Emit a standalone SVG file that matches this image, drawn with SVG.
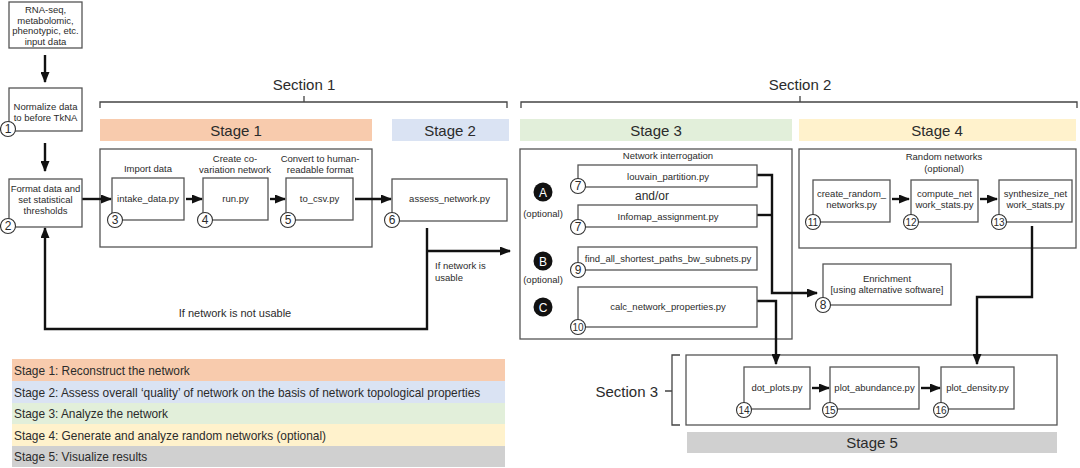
<svg xmlns="http://www.w3.org/2000/svg" width="1080" height="468" viewBox="0 0 1080 468">
<defs>
<style>
text{font-family:"Liberation Sans",Arial,sans-serif;fill:#2b2b2b}
.box{fill:#fff;stroke:#555;stroke-width:1.3}
.frame{fill:none;stroke:#555;stroke-width:1.3}
.t{font-size:9.5px;text-anchor:middle}
.s{font-size:11px;text-anchor:middle}
.hd{font-size:15px;text-anchor:middle}
.lg{font-size:11.9px}
.num{fill:#fff;stroke:#333;stroke-width:1.1}
.nt{font-size:12px;text-anchor:middle}
.nt2{font-size:10px;text-anchor:middle}
.bl{fill:#111}
.blt{fill:#fff;font-size:12px;text-anchor:middle}
.c{fill:none;stroke:#111;stroke-width:2.4}
.br{fill:none;stroke:#444;stroke-width:1.3}
</style>
<marker id="ah" markerUnits="userSpaceOnUse" markerWidth="11" markerHeight="9" refX="10" refY="4.5" orient="auto">
<path d="M0,0 L11,4.5 L0,9 z" fill="#111"/>
</marker>
</defs>
<rect width="1080" height="468" fill="#fff"/>

<!-- Section brackets -->
<g id="sections">
<path class="br" d="M100,108 V102 H507 V108 M304,102 V96"/>
<text class="hd" x="304" y="90">Section 1</text>
<path class="br" d="M521,108 V102 H1077 V108 M800,102 V96"/>
<text class="hd" x="800" y="90">Section 2</text>
<path class="br" d="M680,355 H672 V425 H680 M672,391 H665"/>
<text class="hd" x="658" y="397" style="text-anchor:end">Section 3</text>
</g>

<!-- Stage headers -->
<g id="stage-headers">
<rect x="100" y="119" width="272" height="22" fill="#f8cbad"/>
<text class="hd" x="236" y="135.5">Stage 1</text>
<rect x="392" y="119" width="117" height="22" fill="#dae3f3"/>
<text class="hd" x="450" y="135.5">Stage 2</text>
<rect x="520" y="119" width="272" height="22" fill="#e2efda"/>
<text class="hd" x="656" y="135.5">Stage 3</text>
<rect x="799" y="119" width="277" height="22" fill="#fff2cc"/>
<text class="hd" x="937" y="135.5">Stage 4</text>
<rect x="687" y="432" width="370" height="21" fill="#d0d0d0"/>
<text class="hd" x="872" y="447.5">Stage 5</text>
</g>

<!-- Frames -->
<g id="frames">
<rect class="frame" x="100" y="149" width="272" height="98"/>
<rect class="frame" x="520" y="149" width="272" height="190"/>
<rect class="frame" x="799" y="149" width="277" height="99"/>
<rect class="frame" x="686" y="355" width="371" height="70"/>
<text class="t" x="668" y="159">Network interrogation</text>
<text class="t" x="944" y="160">Random networks</text>
<text class="t" x="944" y="172">(optional)</text>
<text class="t" x="148" y="172">Import data</text>
<text class="t" x="235" y="162">Create co-</text>
<text class="t" x="235" y="173">variation network</text>
<text class="t" x="320" y="162">Convert to human-</text>
<text class="t" x="320" y="173">readable format</text>
<text x="652" y="200" style="font-size:12px;text-anchor:middle">and/or</text>
</g>

<!-- Connectors -->
<g id="connectors">
<path class="c" d="M45,55 V82" marker-end="url(#ah)"/>
<path class="c" d="M45,143 V171" marker-end="url(#ah)"/>
<path class="c" d="M82,199 H111" marker-end="url(#ah)"/>
<path class="c" d="M186,199 H202" marker-end="url(#ah)"/>
<path class="c" d="M270,199 H285" marker-end="url(#ah)"/>
<path class="c" d="M355,199 H391" marker-end="url(#ah)"/>
<path class="c" d="M427,228 V329 H45 V228" marker-end="url(#ah)"/>
<path class="c" d="M427,251 H510" marker-end="url(#ah)"/>
<path class="c" d="M757,175 H772 V293 H817" marker-end="url(#ah)"/>
<path class="c" d="M757,215 H772"/>
<path class="c" d="M757,301 H776 V364" marker-end="url(#ah)"/>
<path class="c" d="M892,199 H909" marker-end="url(#ah)"/>
<path class="c" d="M980,199 H997" marker-end="url(#ah)"/>
<path class="c" d="M1032,226 V297 H977 V364" marker-end="url(#ah)"/>
<path class="c" d="M812,388 H829" marker-end="url(#ah)"/>
<path class="c" d="M921,388 H940" marker-end="url(#ah)"/>
<text x="435" y="269" style="font-size:9.5px">If network is</text>
<text x="435" y="281" style="font-size:9.5px">usable</text>
<text class="s" x="235" y="317">If network is not usable</text>
</g>

<!-- Left column -->
<g id="n-input">
<rect class="box" x="9" y="2" width="73" height="46"/>
<text class="t" x="45.5" y="13">RNA-seq,</text>
<text class="t" x="45.5" y="23.5">metabolomic,</text>
<text class="t" x="45.5" y="34">phenotypic, etc.</text>
<text class="t" x="45.5" y="44.5">input data</text>
</g>
<g id="n1">
<rect class="box" x="9" y="88" width="73" height="43"/>
<text class="t" x="45.5" y="110">Normalize data</text>
<text class="t" x="45.5" y="121">to before TkNA</text>
<circle class="num" cx="8" cy="129" r="7.5"/><text class="nt" x="8" y="133.3">1</text>
</g>
<g id="n2">
<rect class="box" x="9" y="179" width="73" height="48"/>
<text class="t" x="45.5" y="192">Format data and</text>
<text class="t" x="45.5" y="203">set statistical</text>
<text class="t" x="45.5" y="214">thresholds</text>
<circle class="num" cx="8" cy="226" r="7.5"/><text class="nt" x="8" y="230.3">2</text>
</g>

<!-- Stage 1 nodes -->
<g id="n3">
<rect class="box" x="112" y="178" width="72" height="42"/>
<text class="t" x="148" y="202">intake_data.py</text>
<circle class="num" cx="115" cy="220" r="7.5"/><text class="nt" x="115" y="224.3">3</text>
</g>
<g id="n4">
<rect class="box" x="203" y="178" width="65" height="42"/>
<text class="t" x="235.5" y="202">run.py</text>
<circle class="num" cx="205" cy="220" r="7.5"/><text class="nt" x="205" y="224.3">4</text>
</g>
<g id="n5">
<rect class="box" x="286" y="178" width="67" height="42"/>
<text class="t" x="319.5" y="202">to_csv.py</text>
<circle class="num" cx="288" cy="220" r="7.5"/><text class="nt" x="288" y="224.3">5</text>
</g>
<g id="n6">
<rect class="box" x="392" y="179" width="115" height="42"/>
<text class="t" x="449.5" y="202">assess_network.py</text>
<circle class="num" cx="392" cy="220" r="7.5"/><text class="nt" x="392" y="224.3">6</text>
</g>

<!-- Stage 3 -->
<g id="grpA">
<circle class="bl" cx="543" cy="192" r="9.5"/><text class="blt" x="543" y="196.5">A</text>
<text class="t" x="543" y="217">(optional)</text>
</g>
<g id="grpB">
<circle class="bl" cx="543" cy="261" r="9.5"/><text class="blt" x="543" y="265.5">B</text>
<text class="t" x="543" y="283">(optional)</text>
</g>
<g id="grpC">
<circle class="bl" cx="543" cy="307" r="9.5"/><text class="blt" x="543" y="311.5">C</text>
</g>
<g id="n7a">
<rect class="box" x="578" y="165" width="179" height="22"/>
<text class="t" x="668" y="179.5">louvain_partition.py</text>
<circle class="num" cx="578" cy="186" r="7.5"/><text class="nt" x="578" y="190.3">7</text>
</g>
<g id="n7b">
<rect class="box" x="578" y="205" width="179" height="22"/>
<text class="t" x="668" y="219.5">Infomap_assignment.py</text>
<circle class="num" cx="578" cy="227" r="7.5"/><text class="nt" x="578" y="231.3">7</text>
</g>
<g id="n9">
<rect class="box" x="578" y="247" width="179" height="23"/>
<text class="t" x="668" y="262">find_all_shortest_paths_bw_subnets.py</text>
<circle class="num" cx="578" cy="270" r="7.5"/><text class="nt" x="578" y="274.3">9</text>
</g>
<g id="n10">
<rect class="box" x="578" y="287" width="179" height="40"/>
<text class="t" x="668" y="310">calc_network_properties.py</text>
<circle class="num" cx="578" cy="327" r="7.5"/><text class="nt2" x="578" y="330.6">10</text>
</g>
<g id="n8">
<rect class="box" x="823" y="264" width="128" height="41"/>
<text class="t" x="887" y="282">Enrichment</text>
<text class="t" x="887" y="293">[using alternative software]</text>
<circle class="num" cx="823" cy="305" r="7.5"/><text class="nt" x="823" y="309.3">8</text>
</g>

<!-- Stage 4 -->
<g id="n11">
<rect class="box" x="813" y="180" width="77" height="42"/>
<text class="t" x="851.5" y="196.5">create_random_</text>
<text class="t" x="851.5" y="207.5">networks.py</text>
<circle class="num" cx="813" cy="222" r="7.5"/><text class="nt2" x="813" y="225.6">11</text>
</g>
<g id="n12">
<rect class="box" x="911" y="180" width="67" height="42"/>
<text class="t" x="944.5" y="196.5">compute_net</text>
<text class="t" x="944.5" y="207.5">work_stats.py</text>
<circle class="num" cx="911" cy="222" r="7.5"/><text class="nt2" x="911" y="225.6">12</text>
</g>
<g id="n13">
<rect class="box" x="999" y="180" width="73" height="42"/>
<text class="t" x="1035.5" y="196.5">synthesize_net</text>
<text class="t" x="1035.5" y="207.5">work_stats.py</text>
<circle class="num" cx="999" cy="222" r="7.5"/><text class="nt2" x="999" y="225.6">13</text>
</g>

<!-- Stage 5 -->
<g id="n14">
<rect class="box" x="744" y="367" width="66" height="42"/>
<text class="t" x="777" y="391">dot_plots.py</text>
<circle class="num" cx="744" cy="410" r="7.5"/><text class="nt2" x="744" y="413.6">14</text>
</g>
<g id="n15">
<rect class="box" x="830" y="367" width="89" height="42"/>
<text class="t" x="874.5" y="391">plot_abundance.py</text>
<circle class="num" cx="830" cy="410" r="7.5"/><text class="nt2" x="830" y="413.6">15</text>
</g>
<g id="n16">
<rect class="box" x="941" y="367" width="73" height="42"/>
<text class="t" x="977.5" y="391">plot_density.py</text>
<circle class="num" cx="941" cy="410" r="7.5"/><text class="nt2" x="941" y="413.6">16</text>
</g>

<!-- Legend -->
<g id="legend">
<rect x="12" y="359" width="493" height="22" fill="#f8cbad"/>
<rect x="12" y="381" width="493" height="22" fill="#dae3f3"/>
<rect x="12" y="403" width="493" height="21" fill="#e2efda"/>
<rect x="12" y="424" width="493" height="22" fill="#fff2cc"/>
<rect x="12" y="446" width="493" height="21" fill="#d0d0d0"/>
<text class="lg" x="14" y="374.5">Stage 1: Reconstruct the network</text>
<text class="lg" x="14" y="396.5">Stage 2: Assess overall ‘quality’ of network on the basis of network topological properties</text>
<text class="lg" x="14" y="418">Stage 3: Analyze the network</text>
<text class="lg" x="14" y="439.5">Stage 4: Generate and analyze random networks (optional)</text>
<text class="lg" x="14" y="461">Stage 5: Visualize results</text>
</g>
</svg>
